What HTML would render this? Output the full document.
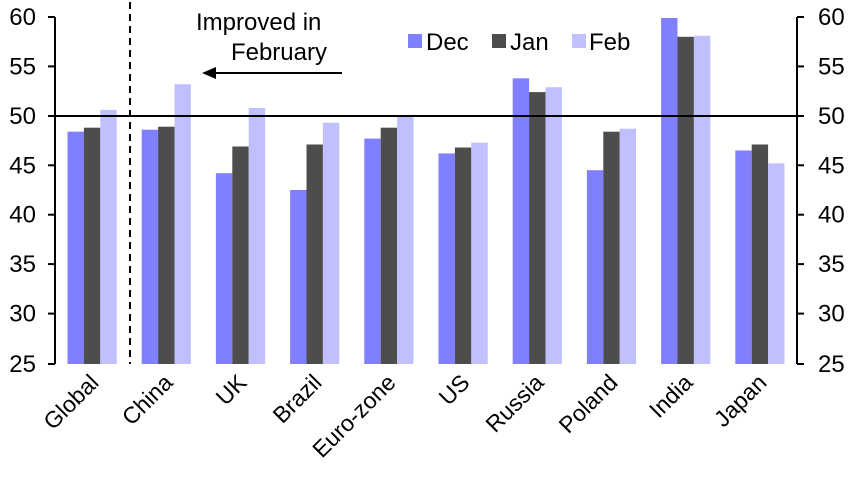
<!DOCTYPE html>
<html><head><style>body{margin:0;background:#fff}svg{display:block;font-family:"Liberation Sans",sans-serif}</style></head><body>
<svg width="854" height="480" xmlns="http://www.w3.org/2000/svg">
<g fill="#8080ff">
<rect x="67.5" y="131.7" width="16.4" height="232.3"/>
<rect x="141.7" y="129.7" width="16.4" height="234.3"/>
<rect x="215.9" y="173.2" width="16.4" height="190.8"/>
<rect x="290.1" y="190" width="16.4" height="174"/>
<rect x="364.3" y="138.6" width="16.4" height="225.4"/>
<rect x="438.5" y="153.4" width="16.4" height="210.6"/>
<rect x="512.7" y="78.3" width="16.4" height="285.7"/>
<rect x="586.9" y="170.2" width="16.4" height="193.8"/>
<rect x="661.1" y="18" width="16.4" height="346"/>
<rect x="735.3" y="150.5" width="16.4" height="213.5"/>
</g>
<g fill="#4d4d4d">
<rect x="83.9" y="127.7" width="16.4" height="236.3"/>
<rect x="158.1" y="126.7" width="16.4" height="237.3"/>
<rect x="232.3" y="146.5" width="16.4" height="217.5"/>
<rect x="306.5" y="144.5" width="16.4" height="219.5"/>
<rect x="380.7" y="127.7" width="16.4" height="236.3"/>
<rect x="454.9" y="147.5" width="16.4" height="216.5"/>
<rect x="529.1" y="92.1" width="16.4" height="271.9"/>
<rect x="603.3" y="131.7" width="16.4" height="232.3"/>
<rect x="677.5" y="36.8" width="16.4" height="327.2"/>
<rect x="751.7" y="144.5" width="16.4" height="219.5"/>
</g>
<g fill="#c0c0ff">
<rect x="100.3" y="109.9" width="16.4" height="254.1"/>
<rect x="174.5" y="84.2" width="16.4" height="279.8"/>
<rect x="248.7" y="108" width="16.4" height="256"/>
<rect x="322.9" y="122.8" width="16.4" height="241.2"/>
<rect x="397.1" y="116.8" width="16.4" height="247.2"/>
<rect x="471.3" y="142.6" width="16.4" height="221.4"/>
<rect x="545.5" y="87.2" width="16.4" height="276.8"/>
<rect x="619.7" y="128.7" width="16.4" height="235.3"/>
<rect x="693.9" y="35.8" width="16.4" height="328.2"/>
<rect x="768.1" y="163.3" width="16.4" height="200.7"/>
</g>
<g font-size="23" text-anchor="end">
<text transform="translate(100,384) rotate(-45)">Global</text>
<text transform="translate(174,384) rotate(-45)">China</text>
<text transform="translate(248,384) rotate(-45)">UK</text>
<text transform="translate(323,384) rotate(-45)">Brazil</text>
<text transform="translate(397,384) rotate(-45)">Euro-zone</text>
<text transform="translate(471,384) rotate(-45)">US</text>
<text transform="translate(545,384) rotate(-45)">Russia</text>
<text transform="translate(619,384) rotate(-45)">Poland</text>
<text transform="translate(694,384) rotate(-45)">India</text>
<text transform="translate(768,384) rotate(-45)">Japan</text>
</g>
<line x1="55" y1="116" x2="797" y2="116" stroke="#000" stroke-width="2"/>
<line x1="130" y1="2" x2="130" y2="364" stroke="#000" stroke-width="2" stroke-dasharray="7,5"/>
<g stroke="#000" stroke-width="2">
<line x1="55" y1="17" x2="55" y2="364"/><line x1="797" y1="17" x2="797" y2="364"/>
<line x1="48" y1="17" x2="55" y2="17"/><line x1="48" y1="66.4" x2="55" y2="66.4"/><line x1="48" y1="116" x2="55" y2="116"/><line x1="48" y1="165.3" x2="55" y2="165.3"/><line x1="48" y1="214.7" x2="55" y2="214.7"/><line x1="48" y1="264.1" x2="55" y2="264.1"/><line x1="48" y1="313.6" x2="55" y2="313.6"/><line x1="48" y1="364" x2="55" y2="364"/>
<line x1="797" y1="17" x2="804" y2="17"/><line x1="797" y1="66.4" x2="804" y2="66.4"/><line x1="797" y1="116" x2="804" y2="116"/><line x1="797" y1="165.3" x2="804" y2="165.3"/><line x1="797" y1="214.7" x2="804" y2="214.7"/><line x1="797" y1="264.1" x2="804" y2="264.1"/><line x1="797" y1="313.6" x2="804" y2="313.6"/><line x1="797" y1="364" x2="804" y2="364"/>
</g>
<g font-size="24" text-anchor="end">
<text x="36" y="25">60</text><text x="36" y="74.4">55</text><text x="36" y="124">50</text><text x="36" y="173.3">45</text><text x="36" y="222.7">40</text><text x="36" y="272.1">35</text><text x="36" y="321.6">30</text><text x="36" y="372">25</text>
</g>
<g font-size="24">
<text x="818" y="25">60</text><text x="818" y="74.4">55</text><text x="818" y="124">50</text><text x="818" y="173.3">45</text><text x="818" y="222.7">40</text><text x="818" y="272.1">35</text><text x="818" y="321.6">30</text><text x="818" y="372">25</text>
</g>
<text x="196" y="30" font-size="24">Improved in</text>
<text x="327" y="60" font-size="24" text-anchor="end">February</text>
<line x1="212" y1="73" x2="342" y2="73" stroke="#000" stroke-width="2"/>
<polygon points="202,73 216,67 216,79" fill="#000"/>
<rect x="408" y="34" width="14" height="14" fill="#8080ff"/><text x="426" y="50" font-size="24">Dec</text>
<rect x="492" y="34" width="14" height="14" fill="#4d4d4d"/><text x="510" y="50" font-size="24">Jan</text>
<rect x="572" y="34" width="14" height="14" fill="#c0c0ff"/><text x="589" y="50" font-size="24">Feb</text>
</svg>
</body></html>
